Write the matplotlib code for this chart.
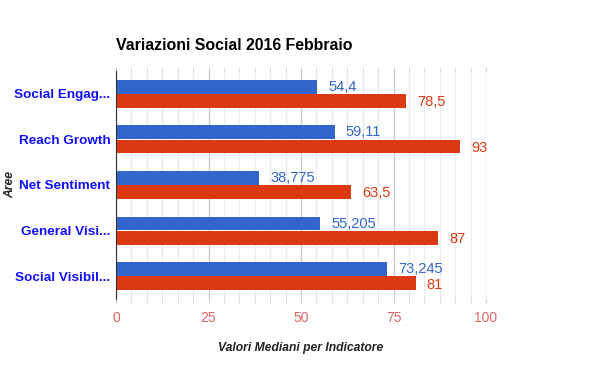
import matplotlib.pyplot as plt
import numpy as np
from matplotlib.ticker import MultipleLocator

# dati
aree = ['Social Engag...', 'Reach Growth', 'Net Sentiment', 'General Visi...', 'Social Visibil...']
serie_blu = [54.4, 59.11, 38.775, 55.205, 73.245]
serie_rossa = [78.5, 93, 63.5, 87, 81]
etichette_blu = ['54,4', '59,11', '38,775', '55,205', '73,245']
etichette_rosse = ['78,5', '93', '63,5', '87', '81']
x_ticks = [0, 25, 50, 75, 100]

BLU = '#3366cc'
ROSSO = '#dc3912'

plt.rcParams['font.family'] = ['Liberation Sans', 'DejaVu Sans']

fig = plt.figure(figsize=(6, 3.71), dpi=100)
ax = fig.add_axes([116 / 600, 1 - 299 / 371, 370 / 600, 228 / 371])

n = len(aree)
y = np.arange(n)[::-1].astype(float)
h = 0.3
off = 0.155

ax.barh(y + off, serie_blu, height=h, color=BLU, zorder=3)
ax.barh(y - off, serie_rossa, height=h, color=ROSSO, zorder=3)

for yi, v, t in zip(y, serie_blu, etichette_blu):
    ax.annotate(t, (v, yi + off), xytext=(8, 0), textcoords='offset points',
                va='center', ha='left', color=BLU, fontsize=10.5)
for yi, v, t in zip(y, serie_rossa, etichette_rosse):
    ax.annotate(t, (v, yi - off), xytext=(8, -1), textcoords='offset points',
                va='center', ha='left', color=ROSSO, fontsize=10.5)

ax.set_xlim(0, 100)
ax.set_ylim(-0.5, n - 0.5)
ax.set_xticks(x_ticks)
ax.xaxis.set_minor_locator(MultipleLocator(25 / 6))
ax.grid(axis='x', which='major', color='#cccccc', lw=1, zorder=0)
ax.grid(axis='x', which='minor', color='#ebebeb', lw=1, zorder=0)
ax.tick_params(axis='x', which='both', top=True, bottom=True, direction='out',
               length=3, color='#cccccc', labelcolor='#e06666', labelsize=10, pad=6)
ax.set_yticks(y)
ax.set_yticklabels(aree, fontweight='bold', color='#1010ff', fontsize=9.7)
ax.tick_params(axis='y', length=0, pad=4)

for s in ['top', 'right', 'bottom']:
    ax.spines[s].set_visible(False)
ax.spines['left'].set_color('#333333')
ax.spines['left'].set_zorder(4)

ax.set_xlabel('Valori Mediani per Indicatore', fontstyle='italic', fontweight='bold',
              fontsize=8.7, color='#222222', labelpad=12)
fig.text(10 / 600, 1 - 185 / 371, 'Aree', rotation=90, fontstyle='italic', fontweight='bold',
         fontsize=8.7, color='#222222', va='center', ha='center')

fig.text(116 / 600, 1 - 45 / 371, 'Variazioni Social 2016 Febbraio', fontweight='bold',
         fontsize=11.4, color='#000000', va='center', ha='left')

fig.savefig('out.png', dpi=100)
